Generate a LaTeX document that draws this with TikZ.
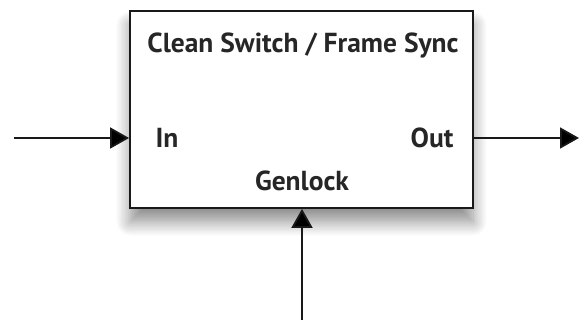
\documentclass[tikz,border=0pt]{standalone}
\usepackage{fontspec}
\setmainfont{PT Sans}
\usetikzlibrary{arrows.meta,positioning,calc,shadows.blur}

\begin{document}
\begin{tikzpicture}[x=1pt,y=1pt,
  unit/.style={draw=black!90,line width=1.8pt,fill=white,minimum width=343pt,minimum height=197pt,
    blur shadow={shadow xshift=0pt,shadow yshift=-14pt,shadow blur radius=14pt,shadow blur steps=12,shadow opacity=45}},
  label/.style={font=\bfseries\fontsize{27.5}{32}\selectfont,text=black!85,inner sep=0pt},
  sig/.style={-{Triangle[length=19pt,width=21pt]},line width=1.8pt,draw=black!90}]
\useasboundingbox (0,0) rectangle (579,320);
\node[unit] (box) at (301.5,210.5) {};
\node[label] (title) at (303,274) {Clean Switch / Frame Sync};
\node[label] (in) at (167,182) {In};
\node[label] (out) at (432,182) {Out};
\node[label] (gen) at (302,139) {Genlock};
\coordinate (src) at (14,182);
\coordinate (dst) at (579,182);
\coordinate (ref) at (302,0);
\path[sig]
(src) edge (src -| box.west)
(src -| box.east) edge (dst)
(ref) edge (ref |- box.south)
;
\end{tikzpicture}
\end{document}
